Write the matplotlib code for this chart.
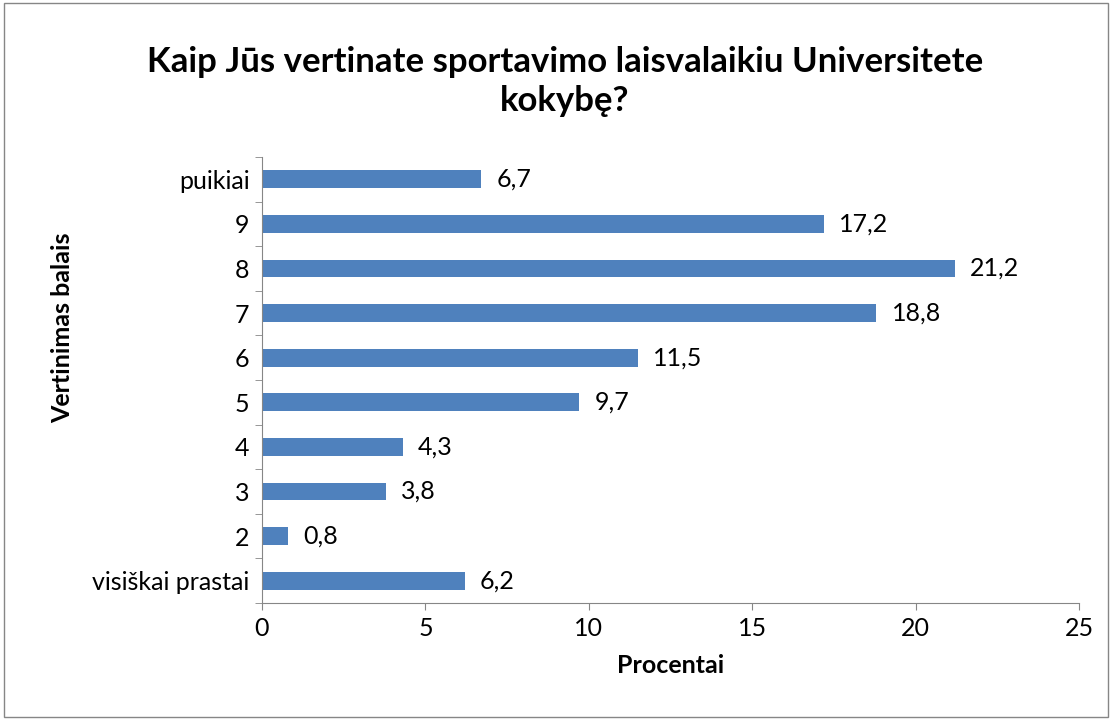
import matplotlib.pyplot as plt
from matplotlib.patches import Rectangle

categories = ["visiškai prastai", "2", "3", "4", "5", "6", "7", "8", "9", "puikiai"]
percent = [6.2, 0.8, 3.8, 4.3, 9.7, 11.5, 18.8, 21.2, 17.2, 6.7]
xticks = [0, 5, 10, 15, 20, 25]

plt.rcParams['font.family'] = ['Lato', 'DejaVu Sans']

fig = plt.figure(figsize=(11.12, 7.2), dpi=100)
ax = fig.add_axes([0.2356, 0.1625, 0.7347, 0.6195])

pos = range(len(categories))
ax.barh(pos, percent, height=0.4, color='#4F81BD')

for i, v in enumerate(percent):
    ax.annotate(f"{v}".replace('.', ','), xy=(v, i), xytext=(11, 0), textcoords='offset points',
                va='center', ha='left', fontsize=18)

ax.set_xlim(0, 25)
ax.set_ylim(-0.5, len(categories) - 0.5)
ax.set_xticks(xticks)
ax.set_xticklabels([str(t) for t in xticks], fontsize=18)
ax.set_yticks(list(pos))
ax.set_yticklabels(categories, fontsize=18)
ax.set_yticks([p - 0.5 for p in range(len(categories) + 1)], minor=True)

for s in ['top', 'right']:
    ax.spines[s].set_visible(False)
for s in ['left', 'bottom']:
    ax.spines[s].set_color('#868686')
ax.tick_params(axis='y', which='major', length=0, pad=9)
ax.tick_params(axis='y', which='minor', length=5, color='#868686')
ax.tick_params(axis='x', length=5, color='#868686', pad=5)

ax.set_xlabel('Procentai', fontsize=18, fontweight='bold', labelpad=10)
fig.text(0.056, 0.545, 'Vertinimas balais', rotation=90, fontsize=18, fontweight='bold',
         ha='center', va='center')
fig.text(0.508, 0.887, 'Kaip Jūs vertinate sportavimo laisvalaikiu Universitete\nkokybę?',
         ha='center', va='center', fontsize=25, fontweight='bold', linespacing=1.25)

fig.patches.append(Rectangle((0.004, 0.004), 0.992, 0.992, transform=fig.transFigure,
                             fill=False, edgecolor='#868686', linewidth=1))

fig.savefig('out.png', dpi=100)
